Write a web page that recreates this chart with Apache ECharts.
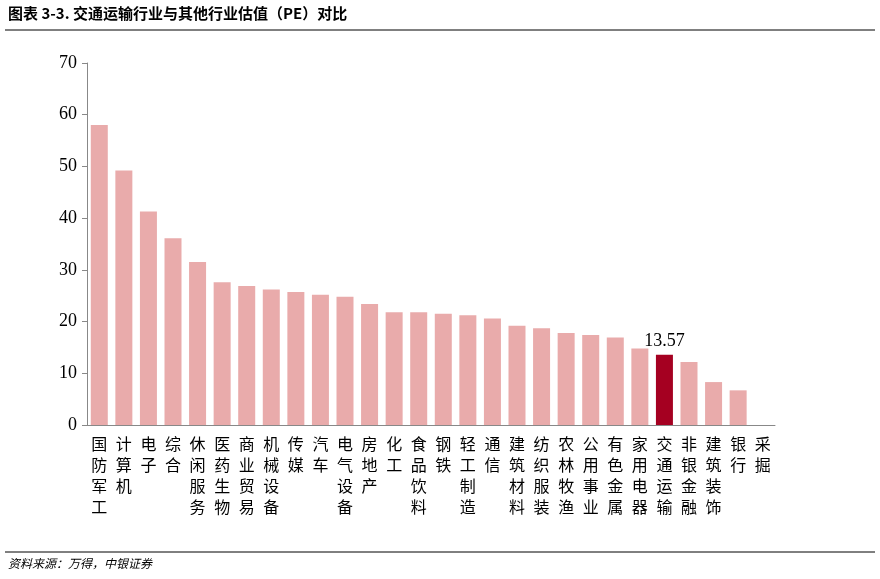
<!DOCTYPE html>
<html><head><meta charset="utf-8">
<script src="https://cdn.jsdelivr.net/npm/echarts@6/dist/echarts.min.js"></script>
<style>body{margin:0;background:#fff}#c{width:880px;height:579px}</style>
</head><body><div id="c"></div>
<script>
const categories=['国防军工','计算机','电子','综合','休闲服务','医药生物','商业贸易','机械设备','传媒','汽车','电气设备','房地产','化工','食品饮料','钢铁','轻工制造','通信','建筑材料','纺织服装','农林牧渔','公用事业','有色金属','家用电器','交通运输','非银金融','建筑装饰','银行','采掘'];
const values=[58,49.2,41.3,36.1,31.5,27.6,26.9,26.2,25.7,25.2,24.8,23.4,21.8,21.8,21.5,21.2,20.6,19.2,18.7,17.8,17.4,16.9,14.8,13.57,12.2,8.3,6.7,0];
const highlight='交通运输';
const yTicks=[0,10,20,30,40,50,60,70];
const chart=echarts.init(document.getElementById('c'));
chart.setOption({
 animation:false,
 graphic:[
  {type:'text',left:8,top:6,style:{text:'图表 3-3. 交通运输行业与其他行业估值（PE）对比',font:'bold 15px "Noto Sans CJK SC"',fill:'#000'}},
  {type:'line',shape:{x1:5,y1:30,x2:875,y2:30},style:{stroke:'#000',lineWidth:1}},
  {type:'line',shape:{x1:5,y1:552,x2:875,y2:552},style:{stroke:'#000',lineWidth:1}},
  {type:'text',left:8,top:557,style:{text:'资料来源：万得，中银证券',font:'italic 12px "Noto Sans CJK SC"',fill:'#000'}}
 ],
 grid:{left:87,right:105,top:63,bottom:154},
 xAxis:{type:'category',data:categories,axisTick:{show:false},
  axisLine:{lineStyle:{color:'#888'}},
  axisLabel:{interval:0,color:'#000',fontSize:16,lineHeight:21,fontFamily:'"Noto Sans CJK SC"',verticalAlign:'top',
   formatter:v=>v.split('').join('\n')}},
 yAxis:{type:'value',min:0,max:70,interval:10,splitLine:{show:false},
  axisLine:{show:true,lineStyle:{color:'#888'}},axisTick:{show:true,length:5,inside:false},
  axisLabel:{color:'#000',fontSize:18,fontFamily:'"Liberation Serif"',margin:10}},
 series:[{type:'bar',barWidth:17,
  data:values.map((v,i)=>({value:v,itemStyle:{color:categories[i]===highlight?'#A50021':'#E9ABAB'},
   label:categories[i]===highlight?{show:true,position:'top',formatter:'13.57',fontSize:18,color:'#000',fontFamily:'"Liberation Serif"'}:{show:false}}))}]
});
</script></body></html>
